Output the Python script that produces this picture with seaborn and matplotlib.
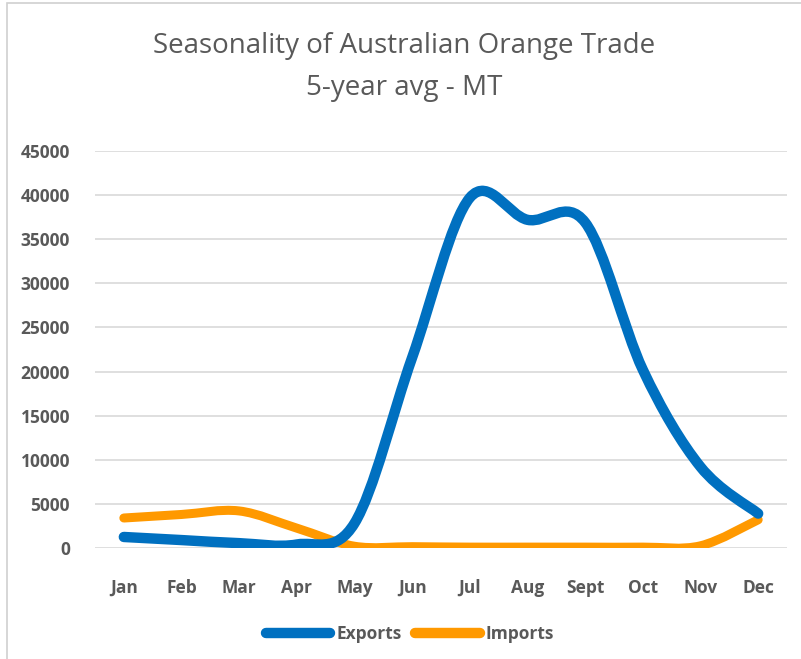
import numpy as np
import pandas as pd
import matplotlib
matplotlib.use("Agg")
import matplotlib.pyplot as plt
from matplotlib.path import Path
from matplotlib.patches import PathPatch, Rectangle
from matplotlib.lines import Line2D
import seaborn as sns

# -------- DATA --------
months = ["Jan", "Feb", "Mar", "Apr", "May", "Jun", "Jul", "Aug", "Sept", "Oct", "Nov", "Dec"]
exports = [1250, 900, 550, 400, 2800, 21600, 39700, 37200, 36900, 20200, 9200, 3900]
imports = [3400, 3800, 4200, 2250, 200, 150, 100, 100, 100, 100, 250, 3200]
series_names = ["Exports", "Imports"]
colors = {"Exports": "#0070C0", "Imports": "#FF9900"}
# ----------------------

df = pd.DataFrame({
    "month": months * 2,
    "pos": list(range(len(months))) * 2,
    "value": exports + imports,
    "series": ["Exports"] * len(months) + ["Imports"] * len(months),
})

sns.set_theme(style="white")
plt.rcParams["font.family"] = ["Open Sans", "DejaVu Sans"]

fig = plt.figure(figsize=(8.01, 6.59), dpi=100)
ax = fig.add_axes([95 / 801, 1 - 548 / 659, 692 / 801, 397 / 659])

sns.lineplot(data=df, x="pos", y="value", hue="series", palette=colors,
             sort=False, ax=ax, legend=False)


def smooth_path(xs, ys):
    # Catmull-Rom style smoothing like Excel's "smoothed line", as cubic Beziers
    xs = np.asarray(xs, float)
    ys = np.asarray(ys, float)
    px = np.concatenate([[xs[0]], xs, [xs[-1]]])
    py = np.concatenate([[ys[0]], ys, [ys[-1]]])
    verts = [(xs[0], ys[0])]
    codes = [Path.MOVETO]
    for i in range(1, len(px) - 2):
        c1 = (px[i] + (px[i + 1] - px[i - 1]) / 6, py[i] + (py[i + 1] - py[i - 1]) / 6)
        c2 = (px[i + 1] - (px[i + 2] - px[i]) / 6, py[i + 1] - (py[i + 2] - py[i]) / 6)
        verts += [c1, c2, (px[i + 1], py[i + 1])]
        codes += [Path.CURVE4] * 3
    return Path(verts, codes)


# replace seaborn's straight segments with smoothed curves from the same data
for line, name in zip(ax.get_lines(), series_names):
    xd, yd = line.get_xdata(), line.get_ydata()
    line.set_visible(False)
    lw = 7.5 if name == "Exports" else 6.5
    ax.add_patch(PathPatch(smooth_path(xd, yd), facecolor="none", edgecolor=colors[name],
                           lw=lw, capstyle="round", joinstyle="round", zorder=3 if name == "Imports" else 4))

ax.set_xlim(-0.5, len(months) - 0.5)
ax.set_ylim(0, 45000)
ax.set_yticks(range(0, 45001, 5000))
ax.set_xticks(range(len(months)))
ax.set_xticklabels(months)
ax.set_xlabel("")
ax.set_ylabel("")
ax.yaxis.grid(True, color="#D9D9D9", lw=1.2)
ax.set_axisbelow(True)
for s in ax.spines.values():
    s.set_visible(False)
ax.tick_params(axis="y", length=0, pad=18, labelsize=12.5, labelcolor="#595959")
ax.tick_params(axis="x", length=0, pad=22, labelsize=12.5, labelcolor="#595959")
for lab in ax.get_xticklabels() + ax.get_yticklabels():
    lab.set_fontweight("bold")

fig.text(0.505, 0.930, "Seasonality of Australian Orange Trade", ha="center", va="center",
         fontsize=20, color="#595959")
fig.text(0.505, 0.866, "5-year avg - MT", ha="center", va="center",
         fontsize=20, color="#595959")

handles = [Line2D([0], [0], color=colors[n], lw=7.5, solid_capstyle="round") for n in series_names]
leg = fig.legend(handles, series_names, loc="center", bbox_to_anchor=(0.512, 0.038), ncol=2,
                 frameon=False, handlelength=3.7, handletextpad=0.35, columnspacing=0.8,
                 prop={"size": 12.5, "weight": "bold"})
for t in leg.get_texts():
    t.set_color("#595959")

# chart frame, partially cut like the screenshot
fig.patches.append(Rectangle((7 / 801, -0.05), 1.1, 1.05 - 3 / 659, transform=fig.transFigure,
                             fill=False, edgecolor="#D0D0D0", lw=1.2))

fig.savefig("out.png", dpi=100)
